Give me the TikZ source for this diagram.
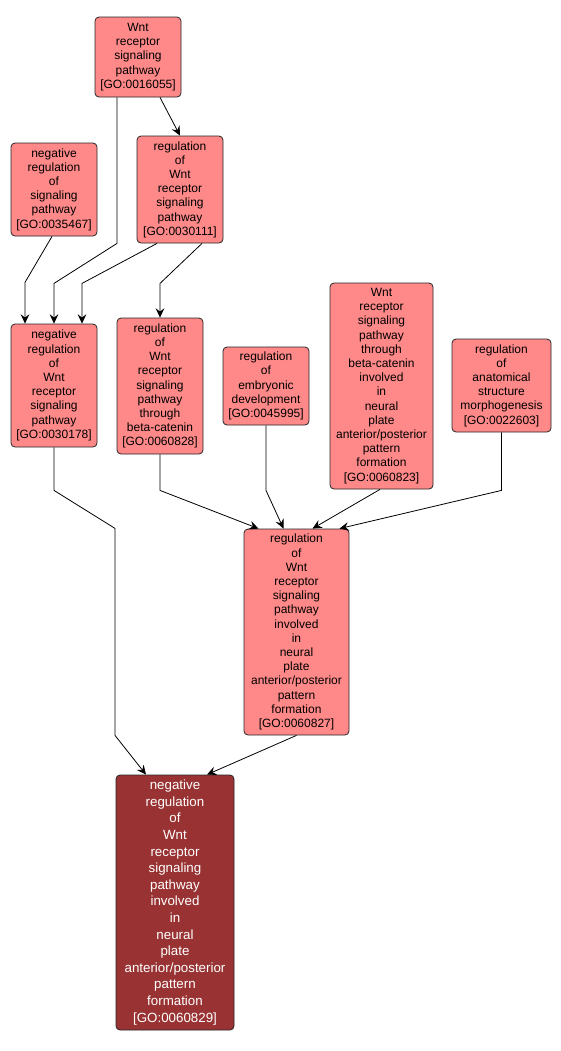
\documentclass[tikz,border=0pt]{standalone}
\usepackage{fontspec}
\setmainfont{Liberation Sans}
\usetikzlibrary{arrows.meta,positioning,calc}
\definecolor{termfill}{RGB}{255,136,136}
\definecolor{queryfill}{RGB}{153,51,51}

\begin{document}
\begin{tikzpicture}[x=0.75pt, y=-0.75pt,
    term/.style={draw=black!85, line width=0.6pt, fill=termfill, rounded corners=3pt,
        inner sep=0pt, align=center, font=\fontsize{9}{10.65}\selectfont},
    query/.style={term, fill=queryfill, text=white, font=\fontsize{10}{12.45}\selectfont},
    arr/.style={-{Stealth[length=7pt, width=6.5pt, inset=2.5pt]}, line width=0.6pt}]
    \useasboundingbox (0,0) rectangle (561,1051);

    % Terms
    \node[term, minimum width=86*0.75pt, minimum height=80*0.75pt] (wnt) at (138,57)
        {Wnt\\receptor\\signaling\\pathway\\{[GO:0016055]}};
    \node[term, minimum width=86*0.75pt, minimum height=93*0.75pt] (negsig) at (54,189.5)
        {negative\\regulation\\of\\signaling\\pathway\\{[GO:0035467]}};
    \node[term, minimum width=86*0.75pt, minimum height=107*0.75pt] (regwnt) at (180,189.5)
        {regulation\\of\\Wnt\\receptor\\signaling\\pathway\\{[GO:0030111]}};
    \node[term, minimum width=86*0.75pt, minimum height=123*0.75pt] (negwnt) at (54,385.5)
        {negative\\regulation\\of\\Wnt\\receptor\\signaling\\pathway\\{[GO:0030178]}};
    \node[term, minimum width=86*0.75pt, minimum height=136*0.75pt] (regbeta) at (160,386)
        {regulation\\of\\Wnt\\receptor\\signaling\\pathway\\through\\beta-catenin\\{[GO:0060828]}};
    \node[term, minimum width=86*0.75pt, minimum height=78*0.75pt] (embryo) at (266,386)
        {regulation\\of\\embryonic\\development\\{[GO:0045995]}};
    \node[term, minimum width=103*0.75pt, minimum height=206*0.75pt] (betaneural) at (381.5,386)
        {Wnt\\receptor\\signaling\\pathway\\through\\beta-catenin\\involved\\in\\neural\\plate\\anterior/posterior\\pattern\\formation\\{[GO:0060823]}};
    \node[term, minimum width=99*0.75pt, minimum height=93*0.75pt] (morpho) at (501.5,385.5)
        {regulation\\of\\anatomical\\structure\\morphogenesis\\{[GO:0022603]}};
    \node[term, minimum width=105*0.75pt, minimum height=206*0.75pt] (regneural) at (296.5,632)
        {regulation\\of\\Wnt\\receptor\\signaling\\pathway\\involved\\in\\neural\\plate\\anterior/posterior\\pattern\\formation\\{[GO:0060827]}};
    \node[query, minimum width=118*0.75pt, minimum height=255*0.75pt] (negneural) at (175,902.5)
        {negative\\regulation\\of\\Wnt\\receptor\\signaling\\pathway\\involved\\in\\neural\\plate\\anterior/posterior\\pattern\\formation\\{[GO:0060829]}};

    % Relations
    \draw[arr] ($(wnt.south)+(22,0)$) -- (regwnt.north);
    \draw[arr] ($(wnt.south)+(-21,0)$) -- ++(0,146) -- ++(-63,40) -- (negwnt.north);
    \draw[arr] ($(negsig.south)+(-2,0)$) -- ++(-27,46) -- ($(negwnt.north)+(-29,0)$);
    \draw[arr] ($(regwnt.south)+(-23,0)$) -- ++(-75,40) -- ($(negwnt.north)+(28,0)$);
    \draw[arr] ($(regwnt.south)+(22,0)$) -- ++(-42,40) -- (regbeta.north);
    \draw[arr] (negwnt.south) -- ++(0,43) -- ++(61,38) -- ++(0,207) -- ($(negneural.north)+(-29,0)$);
    \draw[arr] (regbeta.south) -- ++(0,36) -- ($(regneural.north)+(-38,0)$);
    \draw[arr] (embryo.south) -- ++(0,65) -- ($(regneural.north)+(-13,0)$);
    \draw[arr] ($(betaneural.south)+(-1.5,0)$) -- ($(regneural.north)+(16,0)$);
    \draw[arr] (morpho.south) -- ++(0,58) -- ($(regneural.north)+(43,0)$);
    \draw[arr] (regneural.south) -- ($(negneural.north)+(32,0)$);
\end{tikzpicture}
\end{document}
